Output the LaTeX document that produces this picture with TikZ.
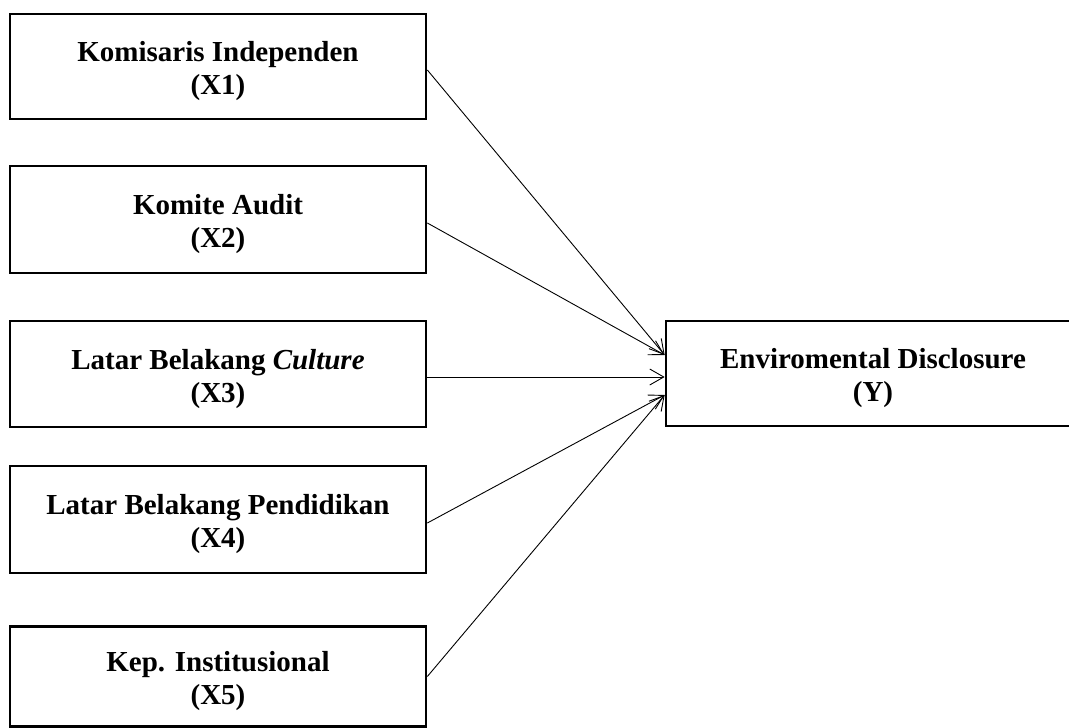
\documentclass[tikz,border=0pt]{standalone}
\usepackage{fontspec}
\setmainfont{Liberation Serif}
\usetikzlibrary{arrows.meta}
\begin{document}
\begin{tikzpicture}[x=1pt,y=-1pt,
  box/.style={draw, line width=2.7pt, rectangle, minimum width=416pt, inner sep=0pt,
    align=center, text height=62.5pt, text depth=6.3pt,
    font=\fontsize{29}{33}\selectfont\bfseries},
  arr/.style={line width=0.9pt, -{Straight Barb[length=14pt,width=16pt,line width=0.9pt]}}]
\useasboundingbox (0,0) rectangle (1069,728);
\fill[white] (0,0) rectangle (1069,728);
\node[box, minimum height=105pt] (x1) at (218,66.5) {Komisaris Independen\\(X1)};
\node[box, minimum height=107pt] (x2) at (218,219.5) {Komite Audit\\(X2)};
\node[box, minimum height=106pt] (x3) at (218,374) {Latar Belakang \textit{Culture}\\(X3)};
\node[box, minimum height=107pt] (x4) at (218,519.5) {Latar Belakang Pendidikan\\(X4)};
\node[box, minimum height=100pt] (x5) at (218,676.5) {Kep. Institusional\\(X5)};
\node[box, minimum width=414pt, minimum height=105pt] (y) at (873,373.5) {Enviromental Disclosure\\(Y)};
\draw[arr] ([yshift=-3.5pt]x1.east) -- ([yshift=18.5pt]y.west);
\draw[arr] ([yshift=-3.5pt]x2.east) -- ([yshift=18.5pt]y.west);
\draw[arr] ([yshift=-3pt]x3.east) -- ([yshift=-3.5pt]y.west);
\draw[arr] ([yshift=-3.5pt]x4.east) -- ([yshift=-21.5pt]y.west);
\draw[arr] (x5.east) -- ([yshift=-21.5pt]y.west);
\end{tikzpicture}
\end{document}
